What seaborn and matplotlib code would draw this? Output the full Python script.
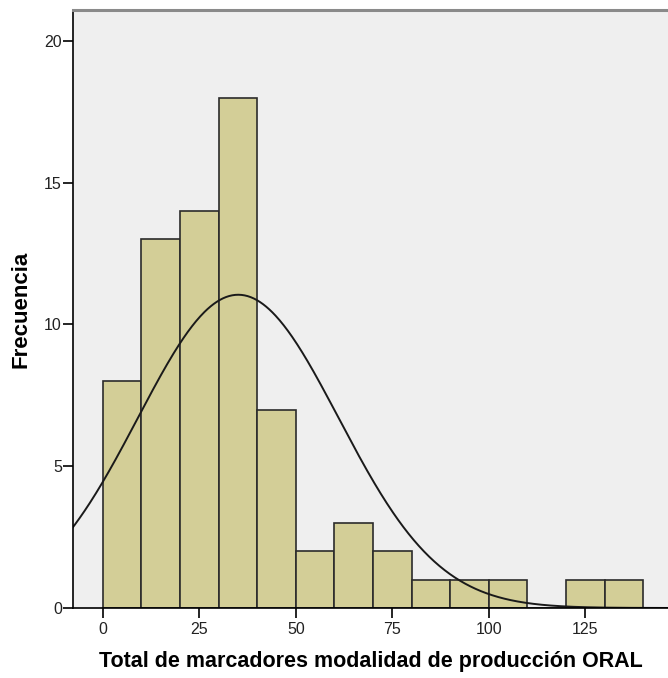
import numpy as np
import pandas as pd
import matplotlib
matplotlib.use("Agg")
import matplotlib.pyplot as plt
import seaborn as sns

bin_edges = [0, 10, 20, 30, 40, 50, 60, 70, 80, 90, 100, 110, 120, 130, 140]
counts = [8, 13, 14, 18, 7, 2, 3, 2, 1, 1, 1, 0, 1, 1]
mean_val = 35.1
sd_val = 26.0
x_ticks = [0, 25, 50, 75, 100, 125]
y_ticks = [0, 5, 10, 15, 20]
x_label = "Total de marcadores modalidad de producción ORAL"
y_label = "Frecuencia"

sns.set_style("white")
plt.rcParams['font.family'] = ['Liberation Sans', 'DejaVu Sans']

centers = [(a + b) / 2 for a, b in zip(bin_edges[:-1], bin_edges[1:])]
df = pd.DataFrame({"x": centers, "w": counts})

fig = plt.figure(figsize=(6.68, 6.78), dpi=100)
ax = fig.add_axes([73/668, 1 - 608/678, (668 - 73)/668, (608 - 10)/678])
ax.set_facecolor("#EFEFEF")

sns.histplot(data=df, x="x", weights="w", bins=bin_edges, ax=ax,
             color="#D3CE97", alpha=1, edgecolor="#2b2b2b", linewidth=1.2)

n = sum(counts)
bw = bin_edges[1] - bin_edges[0]
xs = np.linspace(-10, 150, 600)
ys = n * bw / (sd_val * np.sqrt(2 * np.pi)) * np.exp(-0.5 * ((xs - mean_val) / sd_val) ** 2)
sns.lineplot(x=xs, y=ys, ax=ax, color="#1a1a1a", linewidth=1.4)

ax.set_xlim(-7.69, 146.4)
ax.set_ylim(0, 21.09)
ax.set_xticks(x_ticks)
ax.set_yticks(y_ticks)
ax.tick_params(axis="both", bottom=True, left=True, direction="out", length=7,
               width=1.2, color="black", labelsize=11.5, labelcolor="#222222")
ax.tick_params(axis="y", pad=1)
ax.tick_params(axis="x", pad=3)
for side in ["left", "bottom"]:
    ax.spines[side].set_color("black")
    ax.spines[side].set_linewidth(1.2)
ax.spines["right"].set_visible(False)
ax.spines["top"].set_color("#8a8a8a")
ax.spines["top"].set_linewidth(2.2)

ax.set_xlabel(x_label, fontsize=15.5, fontweight="bold", labelpad=10, color="black")
ax.set_ylabel(y_label, fontsize=16, fontweight="bold", labelpad=9, color="black")

fig.savefig("out.png", dpi=100)
